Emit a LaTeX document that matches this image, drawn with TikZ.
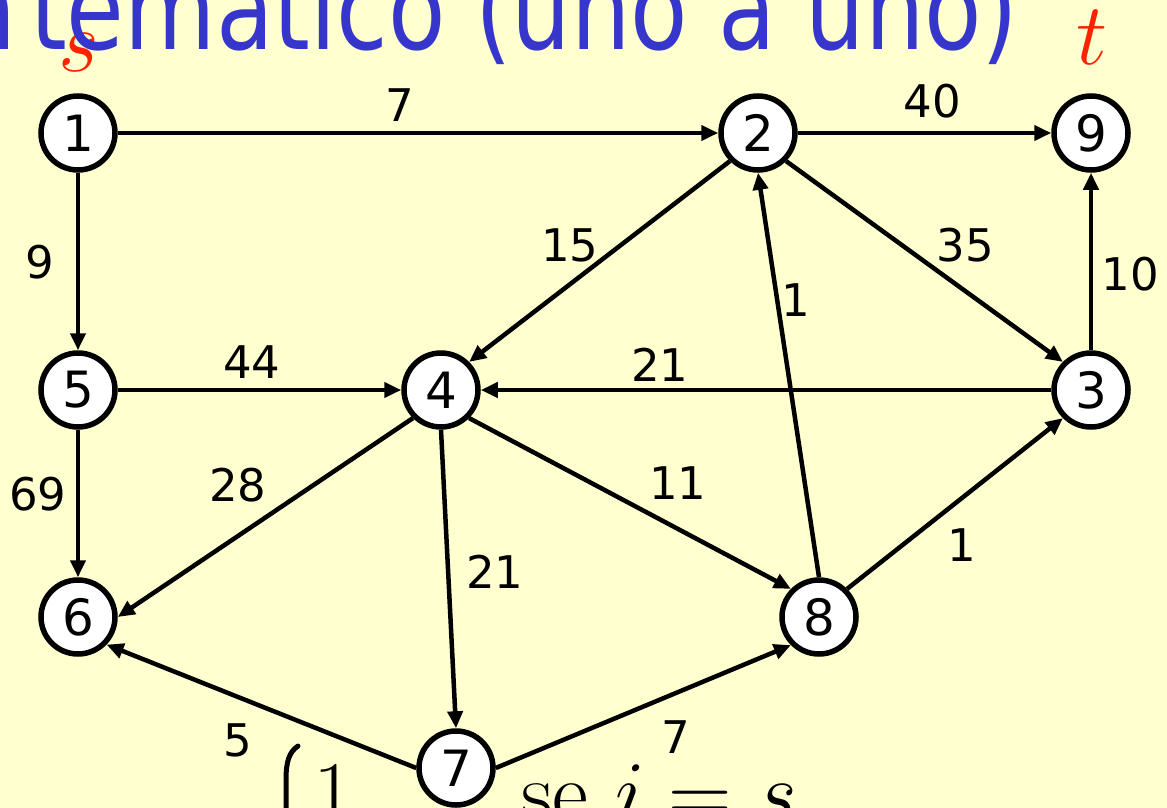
\RequirePackage{fix-cm}
\documentclass[tikz,border=0pt]{standalone}
\usepackage{fontspec}
\newfontfamily\comicfont{DejaVu Sans}
\usetikzlibrary{arrows.meta}
\definecolor{paper}{RGB}{255,255,208}
\definecolor{titleblue}{RGB}{54,54,204}
\definecolor{stred}{RGB}{255,34,0}
\newcommand{\titletext}[1]{\scalebox{1.02}[1.25]{#1}}
\tikzset{
  vertex/.style={circle, draw, line width=5.5pt, fill=white, minimum size=74pt,
    inner sep=0pt, font=\comicfont\fontsize{50}{60}\selectfont},
  arc/.style={line width=4.5pt, -{Triangle[length=17pt,width=15pt]}},
  weight/.style={inner sep=0pt, font=\comicfont\fontsize{45}{54}\selectfont},
  endpoint/.style={inner sep=0pt, text=stred, font=\fontsize{88}{100}\selectfont},
  heading/.style={inner sep=0pt, text=titleblue, font=\comicfont\fontsize{92}{110}\selectfont},
}

\begin{document}
\begin{tikzpicture}[x=1pt,y=-1pt]
  \fill[paper] (0,0) rectangle (1167,808);
  \useasboundingbox (0,0) rectangle (1167,808);
  % titulo (cortado arriba)
  \node[endpoint, anchor=base west] (src) at (58,72) {$s$};
  \node[heading, anchor=base west] (title) at (30,50) {\titletext{temático (uno a uno)}};
  \node[heading, anchor=base east] (titlea) at ([xshift=-13pt]title.base west) {\titletext{a}};
  \node[endpoint, anchor=base west] (snk) at (1076,65) {$t$};
  % formula (cortada abajo)
  \draw[line width=5pt, line cap=round] (298,746) .. controls (289,752) and (286,762) .. (286,780) -- (286,815);
  \node[anchor=base west, inner sep=0pt, font=\fontsize{88}{100}\selectfont] (one) at (313,822) {$1$};
  \node[anchor=base west, inner sep=0pt, font=\fontsize{88}{100}\selectfont] (cond) at (521,822) {$\mathrm{se}\ i = s$};
  % nodos
  \node[vertex] (n1) at (78,133) {1};
  \node[vertex] (n2) at (758,133) {2};
  \node[vertex] (n9) at (1091,133) {9};
  \node[vertex] (n5) at (78,390) {5};
  \node[vertex] (n4) at (441,390) {4};
  \node[vertex] (n3) at (1091,390) {3};
  \node[vertex] (n6) at (78,617) {6};
  \node[vertex] (n8) at (819,617) {8};
  \node[vertex] (n7) at (456,768) {7};
  % arcos
  \draw[arc] (n1) -- (n2);
  \draw[arc] (n2) -- (n9);
  \draw[arc] (n1) -- (n5);
  \draw[arc] (n2.-135) -- (n4.45);
  \draw[arc] (n2.-45) -- (n3.135);
  \draw[arc] (n3) -- (n9);
  \draw[arc] (n8.north) -- (n2.south);
  \draw[arc] (n5) -- (n4);
  \draw[arc] (n3) -- (n4);
  \draw[arc] (n5) -- (n6);
  \draw[arc] (n4.-135) -- (n6.east);
  \draw[arc] (n4.-45) -- (n8.135);
  \draw[arc] (n4.south) -- (n7.north);
  \draw[arc] (n8.45) -- (n3.-135);
  \draw[arc] (n7.west) -- (n6.-44);
  \draw[arc] (n7.east) -- (n8.-135);
  % pesos
  \node[weight] (w12) at (400,105) {7};
  \node[weight] (w29) at (932,101) {40};
  \node[weight] (w15) at (40,262) {9};
  \node[weight] (w24) at (570,245) {15};
  \node[weight] (w23) at (965,245) {35};
  \node[weight] (w39) at (1130,274) {10};
  \node[weight] (w82) at (796,300) {1};
  \node[weight] (w54) at (252,362) {44};
  \node[weight] (w34) at (660,365) {21};
  \node[weight] (w56) at (38,494) {69};
  \node[weight] (w46) at (238,485) {28};
  \node[weight] (w48) at (678,483) {11};
  \node[weight] (w47) at (495,572) {21};
  \node[weight] (w83) at (962,545) {1};
  \node[weight] (w76) at (238,740) {5};
  \node[weight] (w78) at (676,737) {7};
\end{tikzpicture}
\end{document}
